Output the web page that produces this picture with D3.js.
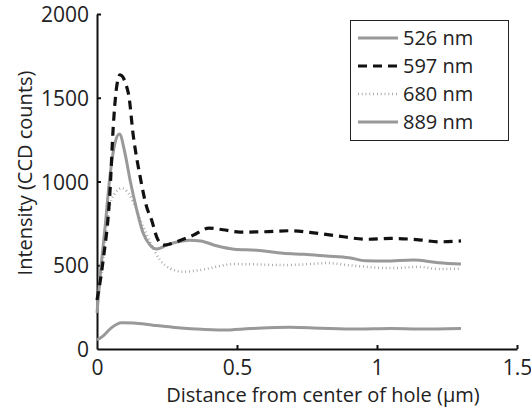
<!DOCTYPE html>
<html>
<head>
<meta charset="utf-8">
<script src="https://cdn.jsdelivr.net/npm/d3@7"></script>
<style>
  body { margin: 0; background: #fff; }
  text { font-family: "Open Sans", sans-serif; fill: #222; }
</style>
</head>
<body>
<div id="chart"></div>
<script>
// ---- data ----
const xTicks = [0, 0.5, 1, 1.5];
const yTicks = [0, 500, 1000, 1500, 2000];

const x526 = [0, 0.011, 0.029, 0.046, 0.064, 0.08, 0.1, 0.118, 0.142, 0.165, 0.19, 0.213, 0.249, 0.29, 0.33, 0.37, 0.43, 0.49, 0.57, 0.665, 0.74, 0.82, 0.9, 0.96, 1.03, 1.13, 1.22, 1.3];
const y526 = [215, 432, 730, 1029, 1228, 1283, 1168, 1009, 830, 691, 620, 597, 620, 640, 650, 645, 615, 596, 590, 572, 565, 555, 545, 527, 525, 531, 515, 507];

const x597 = [0, 0.022, 0.046, 0.058, 0.068, 0.082, 0.112, 0.13, 0.154, 0.177, 0.195, 0.213, 0.237, 0.284, 0.344, 0.4, 0.45, 0.51, 0.6, 0.69, 0.76, 0.81, 0.88, 0.96, 1.05, 1.15, 1.22, 1.3];
const y597 = [293, 531, 930, 1325, 1536, 1636, 1527, 1268, 1029, 850, 770, 670, 620, 640, 680, 722, 712, 698, 700, 706, 696, 686, 670, 655, 660, 652, 640, 645];

const x680 = [0, 0.022, 0.04, 0.064, 0.088, 0.112, 0.136, 0.165, 0.195, 0.225, 0.26, 0.308, 0.368, 0.43, 0.486, 0.57, 0.665, 0.74, 0.82, 0.9, 0.96, 1.05, 1.15, 1.22, 1.3];
const y680 = [253, 531, 810, 930, 960, 930, 850, 730, 620, 531, 482, 461, 471, 492, 507, 505, 501, 505, 513, 500, 491, 483, 490, 478, 480];

const x889 = [0, 0.02, 0.05, 0.088, 0.13, 0.2, 0.27, 0.35, 0.45, 0.55, 0.69, 0.8, 0.93, 1.05, 1.15, 1.3];
const y889 = [54, 75, 125, 157, 155, 142, 130, 120, 113, 122, 130, 124, 119, 122, 120, 123];

const seriesNames = ["526 nm", "597 nm", "680 nm", "889 nm"];
const seriesX = [x526, x597, x680, x889];
const seriesY = [y526, y597, y680, y889];

// ---- styles ----
const styles = [
  { stroke: "#999", width: 3, dash: null },
  { stroke: "#111", width: 3.2, dash: "9,6" },
  { stroke: "#999", width: 2.5, dash: "0.8,3" },
  { stroke: "#999", width: 3, dash: null }
];

const W = 531, H = 410;
const svg = d3.select("#chart").append("svg")
  .attr("width", W).attr("height", H);

const x = d3.scaleLinear().domain([0, 1.5]).range([97, 517]);
const y = d3.scaleLinear().domain([0, 2000]).range([349, 14]);

// ---- axes (left + bottom only, ticks pointing inward) ----
const xAxis = d3.axisBottom(x).tickValues(xTicks).tickSizeInner(-4).tickSizeOuter(0)
  .tickFormat(d => d3.format("")(d));
const yAxis = d3.axisLeft(y).tickValues(yTicks).tickSizeInner(-4).tickSizeOuter(0)
  .tickFormat(d => d);

const gx = svg.append("g").attr("transform", `translate(0,${y(0)})`).call(xAxis);
const gy = svg.append("g").attr("transform", `translate(${x(0)},0)`).call(yAxis);

[gx, gy].forEach(g => {
  g.select(".domain").attr("stroke", "#111").attr("stroke-width", 2);
  g.selectAll(".tick line").attr("stroke", "#111").attr("stroke-width", 2);
  g.selectAll(".tick text")
    .style("font-family", "'Open Sans', sans-serif")
    .style("font-size", "21px").attr("fill", "#222");
});
gx.selectAll(".tick text").attr("dy", null).attr("y", 26);
gy.selectAll(".tick text").attr("x", -8).attr("dy", "0.36em");
// hide the inner tick at origin
gx.selectAll(".tick").filter(d => d === 0).select("line").remove();
gy.selectAll(".tick").filter(d => d === 0).select("line").remove();

// axis titles
svg.append("text")
  .attr("x", 323)
  .attr("y", 402)
  .attr("text-anchor", "middle")
  .style("font-size", "20px")
  .text("Distance from center of hole (\u00b5m)");

svg.append("text")
  .attr("transform", "translate(32,173) rotate(-90)")
  .attr("text-anchor", "middle")
  .style("font-size", "20px")
  .text("Intensity (CCD counts)");

// ---- lines ----
const line = d3.line()
  .x(d => x(d[0]))
  .y(d => y(d[1]))
  .curve(d3.curveMonotoneX);

const drawOrder = [3, 2, 0, 1];
drawOrder.forEach(i => {
  const pts = seriesX[i].map((v, k) => [v, seriesY[i][k]]);
  svg.append("path")
    .datum(pts)
    .attr("fill", "none")
    .attr("stroke", styles[i].stroke)
    .attr("stroke-width", styles[i].width)
    .attr("stroke-dasharray", styles[i].dash)
    .attr("d", line);
});

// ---- legend ----
const legend = svg.append("g");
legend.append("rect")
  .attr("x", 350.5).attr("y", 20.5)
  .attr("width", 158).attr("height", 120)
  .attr("fill", "#fff").attr("stroke", "#222").attr("stroke-width", 1);

seriesNames.forEach((name, i) => {
  const ly = 38 + i * 28;
  legend.append("line")
    .attr("x1", 358).attr("x2", 398)
    .attr("y1", ly).attr("y2", ly)
    .attr("stroke", styles[i].stroke)
    .attr("stroke-width", styles[i].width)
    .attr("stroke-dasharray", styles[i].dash);
  legend.append("text")
    .attr("x", 403).attr("y", ly)
    .attr("dy", "0.36em")
    .style("font-size", "20px")
    .text(name);
});
</script>
</body>
</html>
